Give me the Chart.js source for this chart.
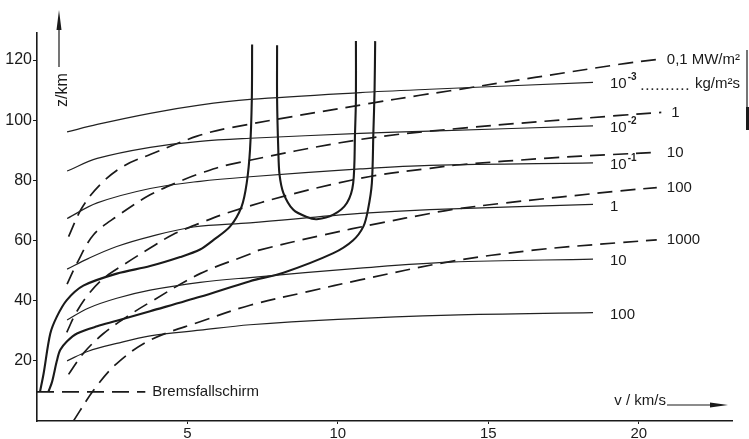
<!DOCTYPE html>
<html>
<head>
<meta charset="utf-8">
<script src="https://cdn.jsdelivr.net/npm/chart.js@4.4.1/dist/chart.umd.min.js"></script>
<style>
    html, body { margin: 0; padding: 0; background: #fff; }
    #wrap { width: 749px; height: 439px; }
</style>
</head>
<body>
<div id="wrap"><canvas id="chart" width="749" height="439"></canvas></div>
<script>
// axis ticks
var vTicks = [5, 10, 15, 20];
var zTicks = [20, 40, 60, 80, 100, 120];

// thin solid curves: mass flux, kg/m2s   [v km/s, z km]
var mass1e3 = [[1.0, 96.1], [2.0, 98.6], [3.76, 102.3], [5.4, 105], [7.08, 106.9], [10.74, 109.2], [13.06, 110.3], [18.48, 112.6]];
var mass1e2 = [[1.0, 83.1], [2.0, 87.3], [3.76, 91], [5.42, 93], [7.08, 94], [10.74, 95.6], [13.06, 96.4], [18.48, 98.1]];
var mass1e1 = [[1.0, 67.3], [2.0, 72.5], [3.76, 77.3], [5.42, 79.7], [7.08, 81.2], [10.74, 83.8], [13.06, 85], [18.48, 85.8]];
var mass1 = [[1.0, 50.5], [1.7, 54], [2.65, 58], [3.76, 61.3], [5.2, 64.5], [7.08, 65.9], [10.74, 69], [13.06, 70.3], [18.48, 72]];
var mass10 = [[1.0, 33.6], [1.7, 37.5], [2.65, 40.8], [3.76, 43.5], [5.42, 46.1], [7.08, 47.7], [10.74, 50.8], [13.73, 52.8], [18.48, 53.8]];
var mass100 = [[1.0, 20], [1.7, 23.2], [2.65, 25.8], [3.76, 28.3], [5.42, 30.2], [7.08, 32], [10, 33.8], [13.73, 35.2], [18.48, 36]];
var massLabels = ['10^-3', '10^-2', '10^-1', '1', '10', '100'];

// dashed curves: heat flux, MW/m2
var heat01 = [[1.05, 61.3], [1.49, 70.8], [2.1, 78.6], [2.87, 84.7], [3.76, 88.6], [5.32, 94.7], [6.42, 97.5], [11.07, 105.6], [12.73, 108.3], [13.73, 109.8], [19.37, 118.6], [20.6, 120.2]];
var heat1 = [[1.0, 45.5], [1.33, 52.5], [1.88, 61.9], [2.65, 68], [3.76, 75.2], [4.87, 80.2], [5.42, 82.3], [6.42, 85.3], [10.74, 93.6], [14.06, 97.3], [19.37, 101.6], [20.75, 102.6]];
var heat10 = [[0.99, 29.5], [1.3, 36], [1.7, 42], [2.2, 47.3], [2.93, 52.3], [3.76, 57.5], [4.52, 62], [5.42, 65.8], [6.42, 69.5], [8.5, 75.5], [11.07, 81.3], [13.06, 84], [14.06, 85.2], [17, 87.4], [19.14, 88.6], [20.6, 89.3]];
var heat100 = [[1.05, 15.5], [1.54, 22.5], [2.2, 29], [2.99, 34.7], [3.76, 39.5], [5.42, 49], [7.08, 55.5], [7.42, 56.9], [9.5, 61.8], [11.4, 65.8], [13.06, 69], [13.73, 70.2], [15.39, 72.3], [19.37, 76.5], [20.6, 77.6]];
var heat1000 = [[1.21, 0], [1.88, 10.2], [2.65, 19.1], [3.76, 26.9], [5.42, 33], [7.08, 38.5], [9, 43], [10.74, 46.9], [13.73, 53], [16.5, 56.8], [19.37, 59.3], [20.6, 60.2]];
var heatLabels = ['0,1', '1', '10', '100', '1000'];

// drogue chute line
var brakeChute = [[0, 9.7], [3.6, 9.7]];

// thick curves: trajectories
var traj1 = [[0.1, 9.7], [0.22, 15.8], [0.44, 29], [0.66, 34.7], [0.99, 40.2], [1.54, 45], [2.65, 49], [3.76, 51.5], [4.76, 54.5], [5.42, 57], [5.87, 60.2], [6.42, 64.7], [6.8, 71.3], [6.97, 79.1], [7.08, 90.2], [7.14, 106.9], [7.15, 125.2]];
var traj2 = [[0.38, 9.7], [0.5, 13], [0.66, 20], [0.77, 23.6], [1.0, 26.5], [1.33, 29.1], [2.0, 31.5], [2.65, 33.3], [3.76, 36.5], [5.42, 41.3], [7.08, 46.5], [8.19, 49.3], [9.85, 55.8], [10.5, 60], [10.85, 64.7], [11.0, 70.2], [11.13, 79.1], [11.18, 95.8], [11.22, 110], [11.24, 126.3]];
var skipLoop = [[7.98, 124.9], [7.98, 107], [8.02, 90.2], [8.06, 82], [8.19, 75.8], [8.52, 70.2], [8.97, 67.8], [9.3, 67.1], [9.85, 68.6], [10.3, 72.5], [10.51, 79.1], [10.57, 95.8], [10.6, 107], [10.6, 126.3]];

var ink = '#1a1a1a';
var fontFamily = '"Liberation Sans", Arial, sans-serif';

var massCurves = [mass1e3, mass1e2, mass1e1, mass1, mass10, mass100];
var heatCurves = [heat01, heat1, heat10, heat100, heat1000];

function toPts(arr) {
    return arr.map(function (p) { return {x: p[0], y: p[1]}; });
}

var datasets = [];
massCurves.forEach(function (c) {
    datasets.push({data: toPts(c), borderColor: '#222', borderWidth: 1.2, tension: 0.35});
});
heatCurves.forEach(function (c) {
    datasets.push({data: toPts(c), borderColor: ink, borderWidth: 1.7, borderDash: [15, 8], tension: 0.35});
});
datasets.push({data: toPts(brakeChute), borderColor: ink, borderWidth: 1.7, borderDash: [17, 8], tension: 0});
[traj1, traj2, skipLoop].forEach(function (c) {
    datasets.push({data: toPts(c), borderColor: ink, borderWidth: 2.1, tension: 0.3});
});
datasets.forEach(function (d) {
    d.showLine = true;
    d.pointRadius = 0;
    d.fill = false;
});

// draws "10^-3" style text, returns end x
function drawLabel(ctx, text, x, y) {
    var parts = text.split('^');
    ctx.font = '15px ' + fontFamily;
    ctx.textAlign = 'left';
    ctx.fillText(parts[0], x, y);
    var w = ctx.measureText(parts[0]).width;
    if (parts[1]) {
        ctx.font = 'bold 10px ' + fontFamily;
        ctx.fillText(parts[1], x + w + 1, y - 7);
        w += ctx.measureText(parts[1]).width + 1;
    }
    return x + w;
}

// dotted leader from label to unit
function leader(ctx, x0, unit, right, y) {
    ctx.font = '15px ' + fontFamily;
    ctx.textAlign = 'right';
    ctx.fillText(unit, right, y);
    var x1 = right - ctx.measureText(unit).width - 3;
    for (var x = x0 + 3; x <= x1 - 1; x += 5) {
        ctx.fillRect(x, y + 4, 1.6, 1.6);
    }
}

var textPlugin = {
    id: 'curveText',
    afterDatasetsDraw: function (chart) {
        var ctx = chart.ctx, xs = chart.scales.x, ys = chart.scales.y, area = chart.chartArea;
        ctx.save();
        ctx.fillStyle = ink;
        ctx.strokeStyle = ink;
        ctx.textBaseline = 'middle';

        massCurves.forEach(function (c, i) {
            var p = c[c.length - 1];
            var px = xs.getPixelForValue(p[0]) + 17;
            var py = ys.getPixelForValue(p[1]) + 2;
            var end = drawLabel(ctx, massLabels[i], px, py);
            if (i === 0) {
                leader(ctx, end + 2, 'kg/m²s', area.right + 8, py);
            }
        });

        heatCurves.forEach(function (c, i) {
            var p = c[c.length - 1];
            var px = xs.getPixelForValue(p[0]) + 10;
            var py = ys.getPixelForValue(p[1]);
            var end = drawLabel(ctx, heatLabels[i], px, py);
            if (i === 0) {
                leader(ctx, end - 1, 'MW/m²', area.right + 8, py);
            }
        });

        // drogue chute label
        var b = brakeChute[brakeChute.length - 1];
        ctx.font = '15px ' + fontFamily;
        ctx.textAlign = 'left';
        ctx.fillText('Bremsfallschirm', xs.getPixelForValue(b[0]) + 7, ys.getPixelForValue(b[1]));

        // z axis title with arrow
        var ax = area.left + 22;
        ctx.lineWidth = 1.2;
        ctx.beginPath();
        ctx.moveTo(ax, area.top + 34);
        ctx.lineTo(ax, area.top - 8);
        ctx.stroke();
        ctx.beginPath();
        ctx.moveTo(ax, area.top - 23);
        ctx.lineTo(ax - 2.5, area.top - 3);
        ctx.lineTo(ax + 2.5, area.top - 3);
        ctx.closePath();
        ctx.fill();
        ctx.save();
        ctx.translate(ax + 4, area.top + 57);
        ctx.rotate(-Math.PI / 2);
        ctx.textAlign = 'center';
        ctx.font = '16px ' + fontFamily;
        ctx.fillText('z/km', 0, 0);
        ctx.restore();

        // v axis title with arrow
        var ay = area.bottom - 16;
        ctx.beginPath();
        ctx.moveTo(area.right - 65, ay);
        ctx.lineTo(area.right - 18, ay);
        ctx.stroke();
        ctx.beginPath();
        ctx.moveTo(area.right - 4, ay);
        ctx.lineTo(area.right - 22, ay - 2.5);
        ctx.lineTo(area.right - 22, ay + 2.5);
        ctx.closePath();
        ctx.fill();
        ctx.font = '15px ' + fontFamily;
        ctx.textAlign = 'right';
        ctx.fillText('v / km/s', area.right - 66, ay - 4);

        // scan edge mark on the right border
        ctx.lineWidth = 1.2;
        ctx.beginPath();
        ctx.moveTo(chart.width - 2, 50);
        ctx.lineTo(chart.width - 2, 130);
        ctx.stroke();
        ctx.fillRect(chart.width - 3, 107, 3, 23);
        ctx.restore();
    }
};

var tickFont = {family: fontFamily, size: 15};

new Chart(document.getElementById('chart'), {
    type: 'scatter',
    data: {datasets: datasets},
    options: {
        responsive: false,
        animation: false,
        devicePixelRatio: 1,
        layout: {padding: {top: 33, right: 17, left: 0, bottom: 0}},
        plugins: {legend: {display: false}, tooltip: {enabled: false}},
        scales: {
            x: {
                type: 'linear',
                min: 0,
                max: 23.1,
                afterBuildTicks: function (scale) {
                    scale.ticks = vTicks.map(function (v) { return {value: v}; });
                },
                afterFit: function (scale) { scale.height = 18; },
                border: {color: ink, width: 1.6},
                grid: {drawOnChartArea: false, color: ink, tickLength: 3},
                ticks: {color: ink, font: tickFont, padding: 1, maxRotation: 0}
            },
            y: {
                type: 'linear',
                min: 0,
                max: 129,
                afterBuildTicks: function (scale) {
                    scale.ticks = zTicks.map(function (v) { return {value: v}; });
                },
                afterFit: function (scale) { scale.width = 37; },
                border: {color: ink, width: 1.6},
                grid: {drawOnChartArea: false, color: ink, tickLength: 4},
                ticks: {color: ink, font: {family: fontFamily, size: 16}, padding: 1}
            }
        }
    },
    plugins: [textPlugin]
});
</script>
</body>
</html>
